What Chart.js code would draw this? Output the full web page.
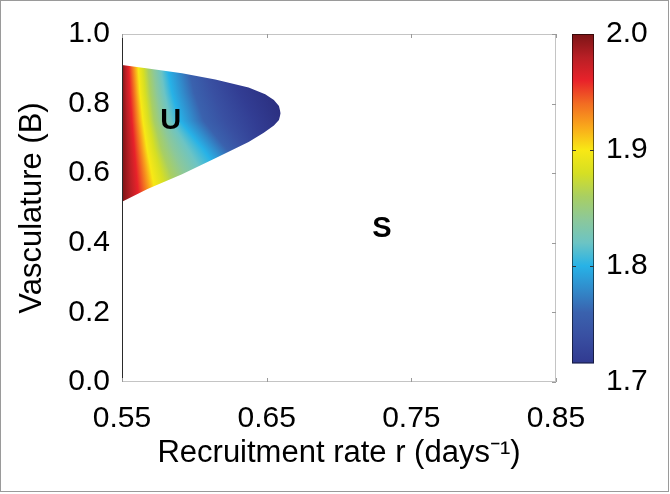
<!DOCTYPE html>
<html>
<head>
<meta charset="utf-8">
<script src="https://cdn.jsdelivr.net/npm/chart.js@4.4.0/dist/chart.umd.min.js"></script>
<style>
  html, body { margin: 0; padding: 0; background: #fff; }
  #phaseChart { display: block; }
</style>
</head>
<body>
<canvas id="phaseChart" width="670" height="494"></canvas>
<script>
// ---------------- 그림에서 읽은 값 ----------------
// 축 눈금
const xTicks = [0.55, 0.65, 0.75, 0.85];
const yTicks = [0.0, 0.2, 0.4, 0.6, 0.8, 1.0];
const cbTicks = [1.7, 1.8, 1.9, 2.0];

// 영역 U 경계 (위쪽 / 아래쪽 가지, r 오름차순)
const upperR = [0.55, 0.568, 0.5915, 0.6145, 0.6375, 0.649, 0.655, 0.6585, 0.6597];
const upperB = [0.911, 0.901, 0.887, 0.869, 0.846, 0.827, 0.810, 0.793, 0.772];
const lowerR = [0.55, 0.568, 0.5915, 0.6145, 0.6375, 0.648, 0.655, 0.6585, 0.6597];
const lowerB = [0.518, 0.555, 0.597, 0.643, 0.690, 0.716, 0.737, 0.753, 0.772];

// 등고선 위치: 각 B 행에서 해당 값이 나타나는 r
const isoLevels = [2.00, 1.97, 1.94, 1.90, 1.85, 1.80, 1.75, 1.72, 1.70];
const isoRowB = [0.91, 0.83, 0.75, 0.67, 0.58, 0.51];
const isoR = [
  [0.550, 0.5535, 0.5569, 0.5611, 0.5694, 0.5811, 0.5991, 0.6233, 0.6454],
  [0.550, 0.5541, 0.5583, 0.5624, 0.5714, 0.5846, 0.6039, 0.6316, 0.6558],
  [0.550, 0.5555, 0.5597, 0.5645, 0.5742, 0.5901, 0.6109, 0.6420, 0.6627],
  [0.550, 0.5569, 0.5618, 0.5673, 0.5797, 0.6060, 0.6261, 0.6489, 0.6662],
  [0.550, 0.5583, 0.5645, 0.5714, 0.5887, 0.6212, 0.6454, 0.6662, 0.6800],
  [0.550, 0.5597, 0.5666, 0.5749, 0.5970, 0.6351, 0.6627, 0.6800, 0.6938]
];

// 컬러바 (jet)
const cbValues = [1.70, 1.72, 1.74, 1.76, 1.78, 1.80, 1.82, 1.84, 1.86, 1.88, 1.90, 1.92, 1.94, 1.96, 1.98, 2.00];
const cbColors = ['#2b2f80', '#323d93', '#3950a2', '#3a62ae', '#318bcb', '#27b2e7', '#6cc4c4', '#8cc89a',
                  '#a9cf62', '#d6df23', '#f8e815', '#f9a81b', '#f26c22', '#e8222a', '#b81f25', '#7b1416'];
const cbLow = 1.716;   // 컬러바 아래 끝

// 영역 이름
const regionNames = ['U', 'S'];
const regionR = [0.5837, 0.7296];
const regionB = [0.751, 0.440];

const xTitle = 'Recruitment rate r (days\u207B\u00B9)';
const yTitle = 'Vasculature (B)';

const FONT = "'Liberation Sans', Arial, Helvetica, sans-serif";
Chart.defaults.font.family = FONT;
Chart.defaults.color = '#000';

function clamp01(o) { return Math.min(1, Math.max(0, o)); }

// ---------------------- 값 -> 위치 (등고선 사이 선형) ---------
function levelPixel(pos, v) {
	for (let k = 0; k < isoLevels.length - 1; k++) {
		const a = isoLevels[k], b = isoLevels[k + 1];
		if (v <= a && v >= b) return pos[k] + (a - v) / (a - b) * (pos[k + 1] - pos[k]);
	}
	return v > isoLevels[0] ? pos[0] : pos[pos.length - 1];
}

// ---------------------- 영역 채우기 패턴 ---------
let heatCache = null;
function heatPattern(chart) {
	const area = chart.chartArea;
	const xs = chart.scales.x, ys = chart.scales.y;
	if (!area || !xs || !ys) return 'rgba(0,0,0,0)';
	const key = [area.left, area.top, area.right, area.bottom].join(',');
	if (heatCache && heatCache.key === key) return heatCache.pattern;

	const off = document.createElement('canvas');
	off.width = chart.width;
	off.height = chart.height;
	const g = off.getContext('2d');
	const x0 = area.left, x1 = area.right;

	for (let py = Math.floor(area.top); py < area.bottom; py++) {
		const b = ys.getValueForPixel(py + 0.5);
		let i = 0;
		while (i < isoRowB.length - 2 && b < isoRowB[i + 1]) i++;
		let t = (isoRowB[i] - b) / (isoRowB[i] - isoRowB[i + 1]);
		t = clamp01(t);
		const pos = isoLevels.map((lv, k) => xs.getPixelForValue(isoR[i][k] + (isoR[i + 1][k] - isoR[i][k]) * t));

		const grad = g.createLinearGradient(x0, 0, x1, 0);
		let last = 0;
		for (let c = cbValues.length - 1; c >= 0; c--) {
			let o = clamp01((levelPixel(pos, cbValues[c]) - x0) / (x1 - x0));
			o = Math.max(last, o);
			last = o;
			grad.addColorStop(o, cbColors[c]);
		}
		g.fillStyle = grad;
		g.fillRect(x0, py, x1 - x0, 1);
	}
	const pattern = chart.ctx.createPattern(off, 'no-repeat');
	heatCache = { key: key, pattern: pattern };
	return pattern;
}

// ---------------------- 테두리, 눈금, 컬러바, 글자 ---------
const decorations = {
	id: 'decorations',
	afterDraw(chart) {
		const ctx = chart.ctx;
		const a = chart.chartArea;
		const xs = chart.scales.x, ys = chart.scales.y, cs = chart.scales.c;
		ctx.save();

		// 축 상자
		ctx.lineWidth = 1;
		ctx.strokeStyle = '#c4c4c4';
		ctx.beginPath();
		ctx.moveTo(a.left, a.top + 0.5); ctx.lineTo(a.right, a.top + 0.5);
		ctx.moveTo(a.left, a.bottom - 0.5); ctx.lineTo(a.right, a.bottom - 0.5);
		ctx.moveTo(a.right - 0.5, a.top); ctx.lineTo(a.right - 0.5, a.bottom);
		ctx.stroke();
		ctx.strokeStyle = '#2a2a2a';
		ctx.beginPath();
		ctx.moveTo(a.left + 0.5, a.top); ctx.lineTo(a.left + 0.5, a.bottom);
		ctx.stroke();

		// 안쪽 눈금
		ctx.strokeStyle = '#9a9a9a';
		ctx.beginPath();
		xTicks.forEach(v => {
			const px = Math.round(xs.getPixelForValue(v)) + 0.5;
			ctx.moveTo(px, a.top); ctx.lineTo(px, a.top + 4);
			ctx.moveTo(px, a.bottom); ctx.lineTo(px, a.bottom - 4);
		});
		yTicks.forEach(v => {
			const py = Math.round(ys.getPixelForValue(v)) + 0.5;
			ctx.moveTo(a.right, py); ctx.lineTo(a.right - 4, py);
		});
		ctx.stroke();

		// 컬러바
		const bx = cs.left + 16, bw = 22;
		const pTop = cs.getPixelForValue(2.0);
		const p17 = cs.getPixelForValue(1.7);
		const pLow = cs.getPixelForValue(cbLow);
		const grad = ctx.createLinearGradient(0, p17, 0, pTop);
		cbValues.forEach((v, i) => grad.addColorStop(clamp01((v - 1.7) / 0.3), cbColors[i]));
		ctx.fillStyle = grad;
		ctx.fillRect(bx, pTop, bw, pLow - pTop);
		ctx.strokeStyle = 'rgba(0,0,0,0.55)';
		ctx.strokeRect(bx + 0.5, pTop + 0.5, bw - 1, pLow - pTop - 1);
		ctx.strokeStyle = '#333';
		ctx.beginPath();
		cbTicks.forEach(v => {
			if (v <= cbLow || v >= 2.0) return;
			const py = Math.round(cs.getPixelForValue(v)) + 0.5;
			ctx.moveTo(bx, py); ctx.lineTo(bx + 4, py);
			ctx.moveTo(bx + bw, py); ctx.lineTo(bx + bw - 4, py);
		});
		ctx.stroke();

		// 영역 이름
		ctx.fillStyle = '#000';
		ctx.font = 'bold 29px ' + FONT;
		ctx.textAlign = 'center';
		ctx.textBaseline = 'middle';
		regionNames.forEach((s, i) => {
			ctx.fillText(s, xs.getPixelForValue(regionR[i]), ys.getPixelForValue(regionB[i]));
		});

		// 바깥 테두리
		ctx.strokeStyle = '#9a9a9a';
		ctx.strokeRect(0.5, 0.5, chart.width - 2, chart.height - 3);
		ctx.restore();
	}
};

// 세로축 라벨 여백이 위쪽 영역을 밀어내지 않도록
function noVerticalPadding(s) {
	s.paddingTop = 0;
	s.paddingBottom = 0;
}

const ctx = document.getElementById('phaseChart').getContext('2d');
const phaseChart = new Chart(ctx, {
	type: 'line',
	data: {
		datasets: [{
			label: 'upper',
			data: upperR.map((r, i) => ({ x: r, y: upperB[i] })),
			borderWidth: 0,
			pointRadius: 0,
			fill: false
		}, {
			label: 'lower',
			data: lowerR.map((r, i) => ({ x: r, y: lowerB[i] })),
			borderWidth: 0,
			pointRadius: 0,
			pointBackgroundColor: 'transparent',
			fill: '-1',
			backgroundColor: c => heatPattern(c.chart)
		}]
	},
	options: {
		responsive: false,
		animation: false,
		devicePixelRatio: 1,
		layout: { padding: { top: 34 } },
		plugins: {
			legend: { display: false },
			tooltip: { enabled: false }
		},
		scales: {
			x: {
				type: 'linear',
				min: 0.55,
				max: 0.85,
				afterBuildTicks: s => { s.ticks = xTicks.map(v => ({ value: v })); },
				afterFit: s => { s.height = 112; },
				grid: { display: false, drawTicks: false },
				border: { display: false },
				ticks: { font: { size: 30 }, padding: 19, maxRotation: 0, autoSkip: false,
					callback: v => Number(v).toFixed(2) },
				title: { display: true, text: xTitle, font: { size: 31 }, padding: { top: 22, bottom: 22 } }
			},
			y: {
				min: 0,
				max: 1,
				afterBuildTicks: s => { s.ticks = yTicks.map(v => ({ value: v })); },
				afterFit: s => { s.width = 122; noVerticalPadding(s); },
				grid: { display: false, drawTicks: false },
				border: { display: false },
				ticks: { font: { size: 30 }, padding: 12, autoSkip: false,
					callback: v => Number(v).toFixed(1) },
				title: { display: true, text: yTitle, font: { size: 31 }, padding: { top: 14, bottom: 14 } }
			},
			c: {
				type: 'linear',
				position: 'right',
				min: 1.7,
				max: 2.0,
				afterBuildTicks: s => { s.ticks = cbTicks.map(v => ({ value: v })); },
				afterFit: s => { s.width = 114; noVerticalPadding(s); },
				grid: { display: false, drawTicks: false },
				border: { display: false },
				ticks: { font: { size: 30 }, padding: 50, autoSkip: false,
					callback: v => Number(v).toFixed(1) }
			}
		}
	},
	plugins: [decorations]
});
</script>
</body>
</html>
